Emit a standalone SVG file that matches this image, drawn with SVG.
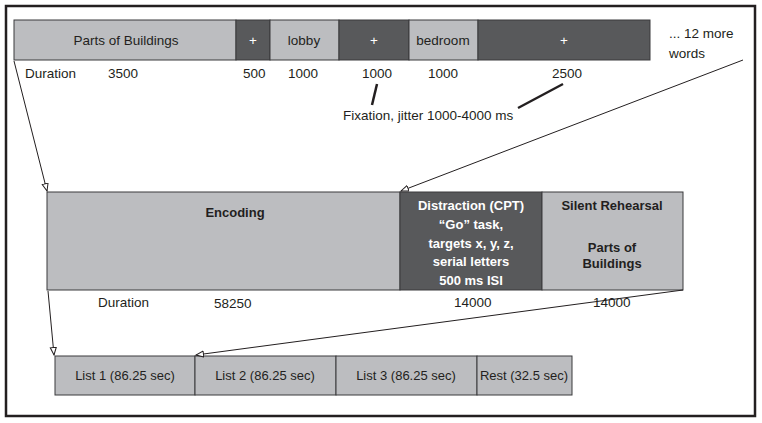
<svg xmlns="http://www.w3.org/2000/svg" width="762" height="423" viewBox="0 0 762 423">
<style>
.lt{fill:#bcbdc0;stroke:#3a3a3c;stroke-width:1}
.dk{fill:#58595b;stroke:#3a3a3c;stroke-width:1}
text{font-family:"Liberation Sans",Arial,sans-serif;font-size:13.5px;fill:#231f20}
.w{fill:#ffffff}
.b{font-weight:bold;font-size:13px}
.c{text-anchor:middle}
.s{font-size:13px}
.conn{stroke:#231f20;stroke-width:1;fill:none}
.thick{stroke:#231f20;stroke-width:2.5;fill:none}
</style>
<defs>
<marker id="ah" markerUnits="userSpaceOnUse" markerWidth="10" markerHeight="8" refX="8" refY="3.5" orient="auto">
<path d="M0.5,0.5 L8,3.5 L0.5,6.5 z" fill="#ffffff" stroke="#231f20" stroke-width="1"/>
</marker>
</defs>
<rect x="6" y="6" width="749" height="410" fill="#ffffff" stroke="#231f20" stroke-width="2.5"/>
<g id="top-bar">
<rect class="lt" x="14" y="20" width="222" height="40"/>
<rect class="dk" x="236" y="20" width="34" height="40"/>
<rect class="lt" x="270" y="20" width="69" height="40"/>
<rect class="dk" x="339" y="20" width="70" height="40"/>
<rect class="lt" x="409" y="20" width="69" height="40"/>
<rect class="dk" x="478" y="20" width="172" height="40"/>
<text class="c" x="126" y="45">Parts of Buildings</text>
<text class="c w" x="253" y="45">+</text>
<text class="c" x="304" y="45">lobby</text>
<text class="c w" x="374" y="45">+</text>
<text class="c" x="443" y="45">bedroom</text>
<text class="c w" x="564" y="45">+</text>
<text x="669" y="38">... 12 more</text>
<text x="669" y="58">words</text>
<text x="25" y="78">Duration</text>
<text x="108" y="78">3500</text>
<text x="243" y="78">500</text>
<text x="288" y="78">1000</text>
<text x="362" y="78">1000</text>
<text x="428" y="78">1000</text>
<text x="552" y="78">2500</text>
<text x="343" y="120">Fixation, jitter 1000-4000 ms</text>
</g>
<g id="middle-bar">
<rect class="lt" x="47" y="192" width="353" height="98"/>
<rect class="dk" x="400" y="192" width="142" height="98"/>
<rect class="lt" x="542" y="192" width="141" height="98"/>
<text class="c b" x="235" y="217">Encoding</text>
<text class="c b w" x="471" y="210">Distraction (CPT)</text>
<text class="c b w" x="471" y="229">“Go” task,</text>
<text class="c b w" x="471" y="248">targets x, y, z,</text>
<text class="c b w" x="471" y="266">serial letters</text>
<text class="c b w" x="471" y="285">500 ms ISI</text>
<text class="c b" x="612" y="210">Silent Rehearsal</text>
<text class="c b" x="612" y="252">Parts of</text>
<text class="c b" x="612" y="268">Buildings</text>
<text x="98" y="307">Duration</text>
<text x="214" y="308">58250</text>
<text x="454" y="307">14000</text>
<text x="593" y="307">14000</text>
</g>
<g id="bottom-bar">
<rect class="lt" x="55" y="356" width="140" height="39"/>
<rect class="lt" x="195" y="356" width="141" height="39"/>
<rect class="lt" x="336" y="356" width="141" height="39"/>
<rect class="lt" x="477" y="356" width="95" height="39"/>
<text class="c s" x="125" y="380">List 1 (86.25 sec)</text>
<text class="c s" x="265" y="380">List 2 (86.25 sec)</text>
<text class="c s" x="406" y="380">List 3 (86.25 sec)</text>
<text class="c s" x="524" y="380">Rest (32.5 sec)</text>
</g>
<g id="connectors">
<line class="conn" x1="14" y1="61" x2="47" y2="191" marker-end="url(#ah)"/>
<line class="conn" x1="743" y1="60" x2="401" y2="191" marker-end="url(#ah)"/>
<line class="conn" x1="48" y1="291" x2="54" y2="355" marker-end="url(#ah)"/>
<line class="conn" x1="683" y1="290" x2="196" y2="355" marker-end="url(#ah)"/>
<line class="thick" x1="377" y1="84" x2="372" y2="105"/>
<line class="thick" x1="563" y1="84" x2="518" y2="108"/>
</g>
</svg>
